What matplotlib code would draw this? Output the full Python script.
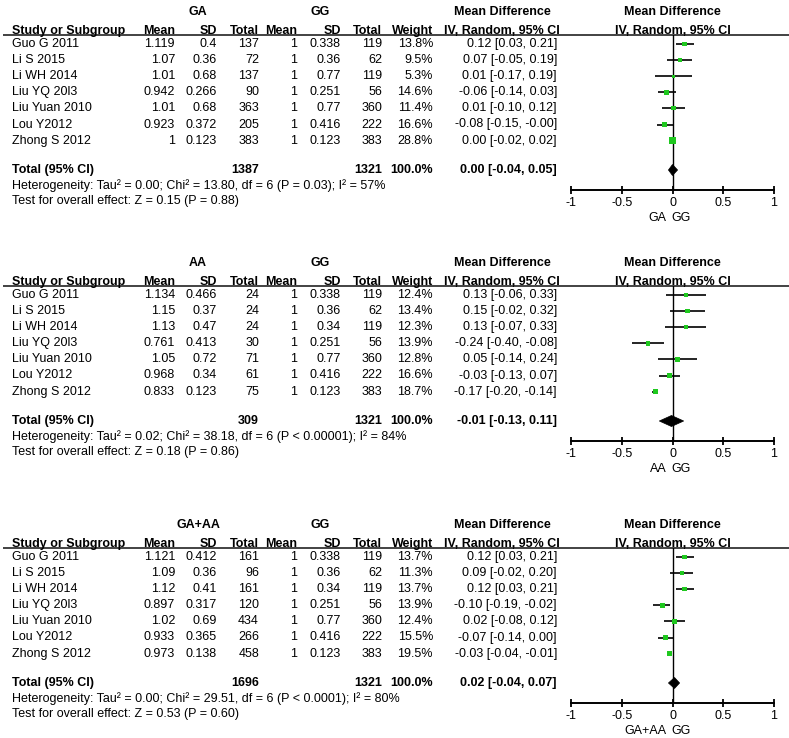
import matplotlib
matplotlib.use("Agg")
import matplotlib.pyplot as plt
from matplotlib.patches import Polygon

plt.rcParams['font.family'] = ['Liberation Sans', 'DejaVu Sans']

# ---------------- data ----------------
studies = ["Guo G 2011", "Li S 2015", "Li WH 2014", "Liu YQ 20l3",
           "Liu Yuan 2010", "Lou Y2012", "Zhong S 2012"]

# Panel 1: GA vs GG
p1_exp_label = "GA"
p1_exp_mean = [1.119, 1.07, 1.01, 0.942, 1.01, 0.923, 1]
p1_exp_sd = [0.4, 0.36, 0.68, 0.266, 0.68, 0.372, 0.123]
p1_exp_n = [137, 72, 137, 90, 363, 205, 383]
p1_ctl_mean = [1, 1, 1, 1, 1, 1, 1]
p1_ctl_sd = [0.338, 0.36, 0.77, 0.251, 0.77, 0.416, 0.123]
p1_ctl_n = [119, 62, 119, 56, 360, 222, 383]
p1_weight = [13.8, 9.5, 5.3, 14.6, 11.4, 16.6, 28.8]
p1_md = [0.12, 0.07, 0.01, -0.06, 0.01, -0.08, 0.00]
p1_lo = [0.03, -0.05, -0.17, -0.14, -0.10, -0.15, -0.02]
p1_hi = [0.21, 0.19, 0.19, 0.03, 0.12, -0.0, 0.02]
p1_tot_n = [1387, 1321]
p1_tot_w = 100.0
p1_tot_ci = [0.00, -0.04, 0.05]
p1_het = "Heterogeneity: Tau² = 0.00; Chi² = 13.80, df = 6 (P = 0.03); I² = 57%"
p1_test = "Test for overall effect: Z = 0.15 (P = 0.88)"

# Panel 2: AA vs GG
p2_exp_label = "AA"
p2_exp_mean = [1.134, 1.15, 1.13, 0.761, 1.05, 0.968, 0.833]
p2_exp_sd = [0.466, 0.37, 0.47, 0.413, 0.72, 0.34, 0.123]
p2_exp_n = [24, 24, 24, 30, 71, 61, 75]
p2_ctl_mean = [1, 1, 1, 1, 1, 1, 1]
p2_ctl_sd = [0.338, 0.36, 0.34, 0.251, 0.77, 0.416, 0.123]
p2_ctl_n = [119, 62, 119, 56, 360, 222, 383]
p2_weight = [12.4, 13.4, 12.3, 13.9, 12.8, 16.6, 18.7]
p2_md = [0.13, 0.15, 0.13, -0.24, 0.05, -0.03, -0.17]
p2_lo = [-0.06, -0.02, -0.07, -0.40, -0.14, -0.13, -0.20]
p2_hi = [0.33, 0.32, 0.33, -0.08, 0.24, 0.07, -0.14]
p2_tot_n = [309, 1321]
p2_tot_w = 100.0
p2_tot_ci = [-0.01, -0.13, 0.11]
p2_het = "Heterogeneity: Tau² = 0.02; Chi² = 38.18, df = 6 (P < 0.00001); I² = 84%"
p2_test = "Test for overall effect: Z = 0.18 (P = 0.86)"

# Panel 3: GA+AA vs GG
p3_exp_label = "GA+AA"
p3_exp_mean = [1.121, 1.09, 1.12, 0.897, 1.02, 0.933, 0.973]
p3_exp_sd = [0.412, 0.36, 0.41, 0.317, 0.69, 0.365, 0.138]
p3_exp_n = [161, 96, 161, 120, 434, 266, 458]
p3_ctl_mean = [1, 1, 1, 1, 1, 1, 1]
p3_ctl_sd = [0.338, 0.36, 0.34, 0.251, 0.77, 0.416, 0.123]
p3_ctl_n = [119, 62, 119, 56, 360, 222, 383]
p3_weight = [13.7, 11.3, 13.7, 13.9, 12.4, 15.5, 19.5]
p3_md = [0.12, 0.09, 0.12, -0.10, 0.02, -0.07, -0.03]
p3_lo = [0.03, -0.02, 0.03, -0.19, -0.08, -0.14, -0.04]
p3_hi = [0.21, 0.20, 0.21, -0.02, 0.12, 0.00, -0.01]
p3_tot_n = [1696, 1321]
p3_tot_w = 100.0
p3_tot_ci = [0.02, -0.04, 0.07]
p3_het = "Heterogeneity: Tau² = 0.00; Chi² = 29.51, df = 6 (P < 0.0001); I² = 80%"
p3_test = "Test for overall effect: Z = 0.53 (P = 0.60)"

ctl_label = "GG"
x_ticks = [-1, -0.5, 0, 0.5, 1]
x_ticklabels = ["-1", "-0.5", "0", "0.5", "1"]

panels = [
    dict(lab=p1_exp_label, em=p1_exp_mean, es=p1_exp_sd, en=p1_exp_n, cm=p1_ctl_mean,
         cs=p1_ctl_sd, cn=p1_ctl_n, w=p1_weight, md=p1_md, lo=p1_lo, hi=p1_hi,
         tn=p1_tot_n, tw=p1_tot_w, tci=p1_tot_ci, het=p1_het, test=p1_test),
    dict(lab=p2_exp_label, em=p2_exp_mean, es=p2_exp_sd, en=p2_exp_n, cm=p2_ctl_mean,
         cs=p2_ctl_sd, cn=p2_ctl_n, w=p2_weight, md=p2_md, lo=p2_lo, hi=p2_hi,
         tn=p2_tot_n, tw=p2_tot_w, tci=p2_tot_ci, het=p2_het, test=p2_test),
    dict(lab=p3_exp_label, em=p3_exp_mean, es=p3_exp_sd, en=p3_exp_n, cm=p3_ctl_mean,
         cs=p3_ctl_sd, cn=p3_ctl_n, w=p3_weight, md=p3_md, lo=p3_lo, hi=p3_hi,
         tn=p3_tot_n, tw=p3_tot_w, tci=p3_tot_ci, het=p3_het, test=p3_test),
]

# ---------------- layout ----------------
W, H = 789, 738
fig = plt.figure(figsize=(W / 100, H / 100), dpi=100)
bg = fig.add_axes([0, 0, 1, 1])
bg.set_xlim(0, W)
bg.set_ylim(H, 0)
bg.axis('off')

FS = 9
GREEN = '#1fc81f'
tops = [12, 263, 525]
X_NAME = 12
X_EM, X_ES, X_EN = 175, 217, 259
X_CM, X_CS, X_CN = 297, 341, 382
X_W, X_CI = 433, 557
X_CIHDR = 502
FX0, FX1 = 571, 774
X_ZERO = (FX0 + FX1) / 2
SP = 16.1


def g(v):
    return f"{v:g}"


def cistr(m, l, h):
    return f"{m:.2f} [{l:.2f}, {h:.2f}]"


for p, top in zip(panels, tops):
    kb = dict(fontsize=FS, fontweight='bold', color='black')
    kn = dict(fontsize=FS, color='black')
    # group headers
    bg.text(198, top, p['lab'], ha='center', va='center', **kb)
    bg.text(320, top, ctl_label, ha='center', va='center', **kb)
    bg.text(X_CIHDR, top, "Mean Difference", ha='center', va='center', **kb)
    bg.text(X_ZERO, top, "Mean Difference", ha='center', va='center', **kb)
    # column headers
    hb = top + 22
    bg.text(X_NAME, hb, "Study or Subgroup", ha='left', va='baseline', **kb)
    for x, t in [(X_EM, "Mean"), (X_ES, "SD"), (X_EN, "Total"), (X_CM, "Mean"),
                 (X_CS, "SD"), (X_CN, "Total"), (X_W, "Weight")]:
        bg.text(x, hb, t, ha='right', va='baseline', **kb)
    bg.text(X_CIHDR, hb, "IV, Random, 95% CI", ha='center', va='baseline', **kb)
    bg.text(X_ZERO, hb, "IV, Random, 95% CI", ha='center', va='baseline', **kb)
    line_y = top + 23
    bg.plot([3, W], [line_y, line_y], color='#222222', lw=1.2, solid_capstyle='butt')

    row0 = top + 32
    for i, name in enumerate(studies):
        y = row0 + i * SP
        bg.text(X_NAME, y, name, ha='left', va='center', **kn)
        bg.text(X_EM, y, g(p['em'][i]), ha='right', va='center', **kn)
        bg.text(X_ES, y, g(p['es'][i]), ha='right', va='center', **kn)
        bg.text(X_EN, y, g(p['en'][i]), ha='right', va='center', **kn)
        bg.text(X_CM, y, g(p['cm'][i]), ha='right', va='center', **kn)
        bg.text(X_CS, y, g(p['cs'][i]), ha='right', va='center', **kn)
        bg.text(X_CN, y, g(p['cn'][i]), ha='right', va='center', **kn)
        bg.text(X_W, y, f"{p['w'][i]:.1f}%", ha='right', va='center', **kn)
        bg.text(X_CI, y, cistr(p['md'][i], p['lo'][i], p['hi'][i]), ha='right', va='center', **kn)

    ty = top + 158
    bg.text(X_NAME, ty, "Total (95% CI)", ha='left', va='center', **kb)
    bg.text(X_EN, ty, g(p['tn'][0]), ha='right', va='center', **kb)
    bg.text(X_CN, ty, g(p['tn'][1]), ha='right', va='center', **kb)
    bg.text(X_W, ty, f"{p['tw']:.1f}%", ha='right', va='center', **kb)
    bg.text(X_CI, ty, cistr(*p['tci']), ha='right', va='center', **kb)
    bg.text(X_NAME, top + 174, p['het'], ha='left', va='center', **kn)
    bg.text(X_NAME, top + 189, p['test'], ha='left', va='center', **kn)

    # forest axes
    axis_y = top + 178
    fa = fig.add_axes([FX0 / W, 1 - axis_y / H, (FX1 - FX0) / W, (axis_y - line_y) / H])
    fa.patch.set_alpha(0)
    fa.set_xlim(-1, 1)
    fa.set_ylim((axis_y - row0) / SP, (line_y - row0) / SP)
    for s in ['top', 'left', 'right']:
        fa.spines[s].set_visible(False)
    fa.spines['bottom'].set_linewidth(1.4)
    fa.set_yticks([])
    fa.set_xticks(x_ticks)
    fa.set_xticklabels(x_ticklabels)
    fa.tick_params(axis='x', direction='inout', length=6, width=1.3, labelsize=FS, pad=2)
    fa.axvline(0, color='black', lw=1.0, zorder=1)
    ys = list(range(len(studies)))
    fa.hlines(ys, p['lo'], p['hi'], color='black', lw=1.2, zorder=2)
    fa.scatter(p['md'], ys, s=[w * 0.8 for w in p['w']], marker='s', color=GREEN,
               linewidths=0, zorder=3)
    tyr = (ty - row0) / SP
    dh = 5.5 / SP
    m, l, h = p['tci']
    fa.add_patch(Polygon([(l, tyr), (m, tyr - dh), (h, tyr), (m, tyr + dh)],
                         closed=True, facecolor='black', edgecolor='black', lw=0.5, zorder=4))
    # favours labels
    bg.text(X_ZERO - 6, top + 206, p['lab'], ha='right', va='center', **kn)
    bg.text(X_ZERO - 1, top + 206, ctl_label, ha='left', va='center', **kn)

fig.savefig("out.png", dpi=100)
